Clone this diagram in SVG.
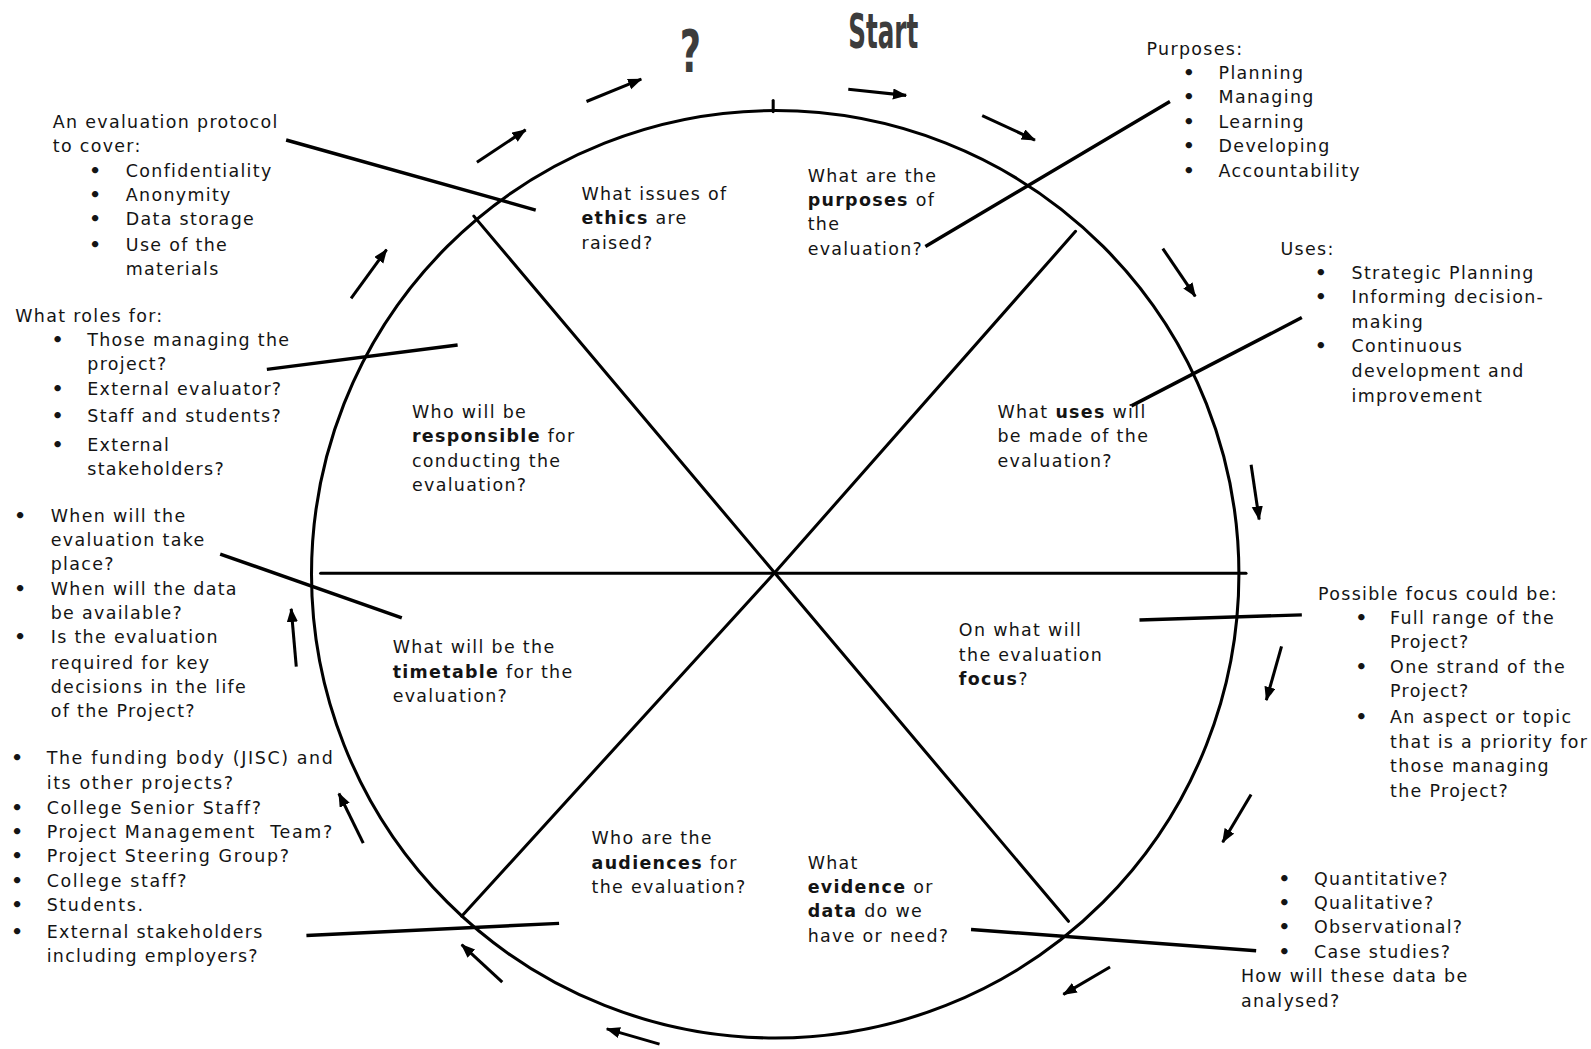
<svg xmlns="http://www.w3.org/2000/svg" width="1591" height="1049" viewBox="0 0 1591 1049">
<style>
.t{font-family:"DejaVu Sans",Verdana,sans-serif;font-size:17.2px;letter-spacing:1.3px;fill:#141414}
.w{letter-spacing:1.6px}
.bu{font-family:"DejaVu Sans",sans-serif;font-size:18px;font-weight:bold;fill:#141414}
.b{font-weight:bold}
.big{font-family:"DejaVu Sans",sans-serif;font-weight:bold;fill:#3c3c3c}
.ln{stroke:#000;stroke-width:3;fill:none;stroke-linecap:round}
.co{stroke:#000;stroke-width:3.4;fill:none}
.ar{stroke:#000;stroke-width:3;fill:none;marker-end:url(#ah)}
</style>
<defs>
<marker id="ah" markerUnits="userSpaceOnUse" markerWidth="15" markerHeight="12" refX="13" refY="5.5" orient="auto">
<path d="M0,0 L14,5.5 L0,11 z" fill="#000"/>
</marker>
</defs>
<rect width="1591" height="1049" fill="#fff"/>
<g transform="scale(1.01467)">
<g id="wheel">
<circle class="ln" cx="764" cy="566" r="457"/>
<line class="ln" x1="762" y1="99" x2="762" y2="110"/>
<line class="ln" x1="467" y1="213" x2="1053" y2="908"/>
<polyline class="ln" points="1060,228 763,565 455,903"/>
<line class="ln" x1="316" y1="565" x2="1228" y2="565"/>
</g>
<g id="title">
<text class="big" x="670" y="71" font-size="58" textLength="21" lengthAdjust="spacingAndGlyphs">?</text>
<text class="big" x="836" y="47" font-size="48" textLength="69" lengthAdjust="spacingAndGlyphs">Start</text>
</g>
<g id="cycle-arrows">
<line class="ar" x1="836" y1="88" x2="893" y2="94"/>
<line class="ar" x1="968" y1="114" x2="1020" y2="138"/>
<line class="ar" x1="1146" y1="245" x2="1178" y2="292"/>
<line class="ar" x1="1233" y1="458" x2="1241" y2="512"/>
<line class="ar" x1="1263" y1="637" x2="1248" y2="690"/>
<line class="ar" x1="1233" y1="783" x2="1205" y2="830"/>
<line class="ar" x1="1094" y1="953" x2="1048" y2="980"/>
<line class="ar" x1="650" y1="1029" x2="598" y2="1014"/>
<line class="ar" x1="495" y1="968" x2="455" y2="931"/>
<line class="ar" x1="358" y1="831" x2="334" y2="782"/>
<line class="ar" x1="292" y1="657" x2="287" y2="600"/>
<line class="ar" x1="346" y1="294" x2="381" y2="246"/>
<line class="ar" x1="470" y1="160" x2="518" y2="128"/>
<line class="ar" x1="578" y1="100" x2="632" y2="78"/>
</g>
<g id="connectors">
<line class="co" x1="282" y1="138" x2="528" y2="207"/>
<line class="co" x1="1153" y1="100" x2="912" y2="243"/>
<line class="co" x1="1283" y1="313" x2="1115" y2="400"/>
<line class="co" x1="263" y1="364" x2="451" y2="340"/>
<line class="co" x1="217" y1="546" x2="396" y2="609"/>
<line class="co" x1="1283" y1="606" x2="1123" y2="611"/>
<line class="co" x1="302" y1="922" x2="551" y2="910"/>
<line class="co" x1="957" y1="916" x2="1238" y2="937"/>
</g>
<g id="q-ethics">
<text class="t" x="573" y="197">What issues of</text>
<text class="t" x="573" y="221"><tspan class="b">ethics</tspan> are</text>
<text class="t" x="573" y="245">raised?</text>
</g>
<g id="q-purposes">
<text class="t" x="796" y="179">What are the</text>
<text class="t" x="796" y="203"><tspan class="b">purposes</tspan> of</text>
<text class="t" x="796" y="227">the</text>
<text class="t" x="796" y="251">evaluation?</text>
</g>
<g id="q-uses">
<text class="t" x="983" y="412">What <tspan class="b">uses</tspan> will</text>
<text class="t" x="983" y="436">be made of the</text>
<text class="t" x="983" y="460">evaluation?</text>
</g>
<g id="q-responsible">
<text class="t" x="406" y="412">Who will be</text>
<text class="t" x="406" y="436"><tspan class="b">responsible</tspan> for</text>
<text class="t" x="406" y="460">conducting the</text>
<text class="t" x="406" y="484">evaluation?</text>
</g>
<g id="q-timetable">
<text class="t" x="387" y="644">What will be the</text>
<text class="t" x="387" y="668"><tspan class="b">timetable</tspan> for the</text>
<text class="t" x="387" y="692">evaluation?</text>
</g>
<g id="q-focus">
<text class="t" x="945" y="627">On what will</text>
<text class="t" x="945" y="651">the evaluation</text>
<text class="t" x="945" y="675"><tspan class="b">focus</tspan>?</text>
</g>
<g id="q-audiences">
<text class="t" x="583" y="832">Who are the</text>
<text class="t" x="583" y="856"><tspan class="b">audiences</tspan> for</text>
<text class="t" x="583" y="880">the evaluation?</text>
</g>
<g id="q-evidence">
<text class="t" x="796" y="856">What</text>
<text class="t" x="796" y="880"><tspan class="b">evidence</tspan> or</text>
<text class="t" x="796" y="904"><tspan class="b">data</tspan> do we</text>
<text class="t" x="796" y="928">have or need?</text>
</g>
<g id="note-protocol">
<text class="t" x="52" y="126">An evaluation protocol</text>
<text class="t" x="52" y="150">to cover:</text>
<text class="bu" x="88" y="174">•</text><text class="t" x="124" y="174">Confidentiality</text>
<text class="bu" x="88" y="198">•</text><text class="t" x="124" y="198">Anonymity</text>
<text class="bu" x="88" y="222">•</text><text class="t" x="124" y="222">Data storage</text>
<text class="bu" x="88" y="247">•</text><text class="t" x="124" y="247">Use of the</text>
<text class="t" x="124" y="271">materials</text>
</g>
<g id="note-purposes">
<text class="t" x="1130" y="54">Purposes:</text>
<text class="bu" x="1166" y="78">•</text><text class="t" x="1201" y="78">Planning</text>
<text class="bu" x="1166" y="102">•</text><text class="t" x="1201" y="102">Managing</text>
<text class="bu" x="1166" y="126">•</text><text class="t" x="1201" y="126">Learning</text>
<text class="bu" x="1166" y="150">•</text><text class="t" x="1201" y="150">Developing</text>
<text class="bu" x="1166" y="174">•</text><text class="t" x="1201" y="174">Accountability</text>
</g>
<g id="note-uses">
<text class="t" x="1262" y="251">Uses:</text>
<text class="bu" x="1296" y="275">•</text><text class="t" x="1332" y="275">Strategic Planning</text>
<text class="bu" x="1296" y="299">•</text><text class="t" x="1332" y="299">Informing decision-</text>
<text class="t" x="1332" y="323">making</text>
<text class="bu" x="1296" y="347">•</text><text class="t" x="1332" y="347">Continuous</text>
<text class="t" x="1332" y="372">development and</text>
<text class="t" x="1332" y="396">improvement</text>
</g>
<g id="note-roles">
<text class="t" x="15" y="317">What roles for:</text>
<text class="bu" x="51" y="341">•</text><text class="t" x="86" y="341">Those managing the</text>
<text class="t" x="86" y="365">project?</text>
<text class="bu" x="51" y="389">•</text><text class="t" x="86" y="389">External evaluator?</text>
<text class="bu" x="51" y="416">•</text><text class="t" x="86" y="416">Staff and students?</text>
<text class="bu" x="51" y="444">•</text><text class="t" x="86" y="444">External</text>
<text class="t" x="86" y="468">stakeholders?</text>
</g>
<g id="note-timetable">
<text class="bu" x="14" y="514">•</text><text class="t" x="50" y="514">When will the</text>
<text class="t" x="50" y="538">evaluation take</text>
<text class="t" x="50" y="562">place?</text>
<text class="bu" x="14" y="586">•</text><text class="t" x="50" y="586">When will the data</text>
<text class="t" x="50" y="610">be available?</text>
<text class="bu" x="14" y="634">•</text><text class="t" x="50" y="634">Is the evaluation</text>
<text class="t" x="50" y="659">required for key</text>
<text class="t" x="50" y="683">decisions in the life</text>
<text class="t" x="50" y="707">of the Project?</text>
</g>
<g id="note-audiences">
<text class="bu" x="11" y="753">•</text><text class="t w" x="46" y="753">The funding body (JISC) and</text>
<text class="t w" x="46" y="778">its other projects?</text>
<text class="bu" x="11" y="802">•</text><text class="t w" x="46" y="802">College Senior Staff?</text>
<text class="bu" x="11" y="826">•</text><text class="t w" x="46" y="826">Project Management&#160; Team?</text>
<text class="bu" x="11" y="850">•</text><text class="t w" x="46" y="850">Project Steering Group?</text>
<text class="bu" x="11" y="874">•</text><text class="t w" x="46" y="874">College staff?</text>
<text class="bu" x="11" y="898">•</text><text class="t w" x="46" y="898">Students.</text>
<text class="bu" x="11" y="924">•</text><text class="t" x="46" y="924">External stakeholders</text>
<text class="t" x="46" y="948">including employers?</text>
</g>
<g id="note-focus">
<text class="t" x="1299" y="591">Possible focus could be:</text>
<text class="bu" x="1336" y="615">•</text><text class="t" x="1370" y="615">Full range of the</text>
<text class="t" x="1370" y="639">Project?</text>
<text class="bu" x="1336" y="663">•</text><text class="t" x="1370" y="663">One strand of the</text>
<text class="t" x="1370" y="687">Project?</text>
<text class="bu" x="1336" y="713">•</text><text class="t" x="1370" y="713">An aspect or topic</text>
<text class="t" x="1370" y="737">that is a priority for</text>
<text class="t" x="1370" y="761">those managing</text>
<text class="t" x="1370" y="785">the Project?</text>
</g>
<g id="note-evidence">
<text class="bu" x="1260" y="872">•</text><text class="t" x="1295" y="872">Quantitative?</text>
<text class="bu" x="1260" y="896">•</text><text class="t" x="1295" y="896">Qualitative?</text>
<text class="bu" x="1260" y="920">•</text><text class="t" x="1295" y="920">Observational?</text>
<text class="bu" x="1260" y="944">•</text><text class="t" x="1295" y="944">Case studies?</text>
<text class="t" x="1223" y="968">How will these data be</text>
<text class="t" x="1223" y="992">analysed?</text>
</g>
</g>
</svg>
